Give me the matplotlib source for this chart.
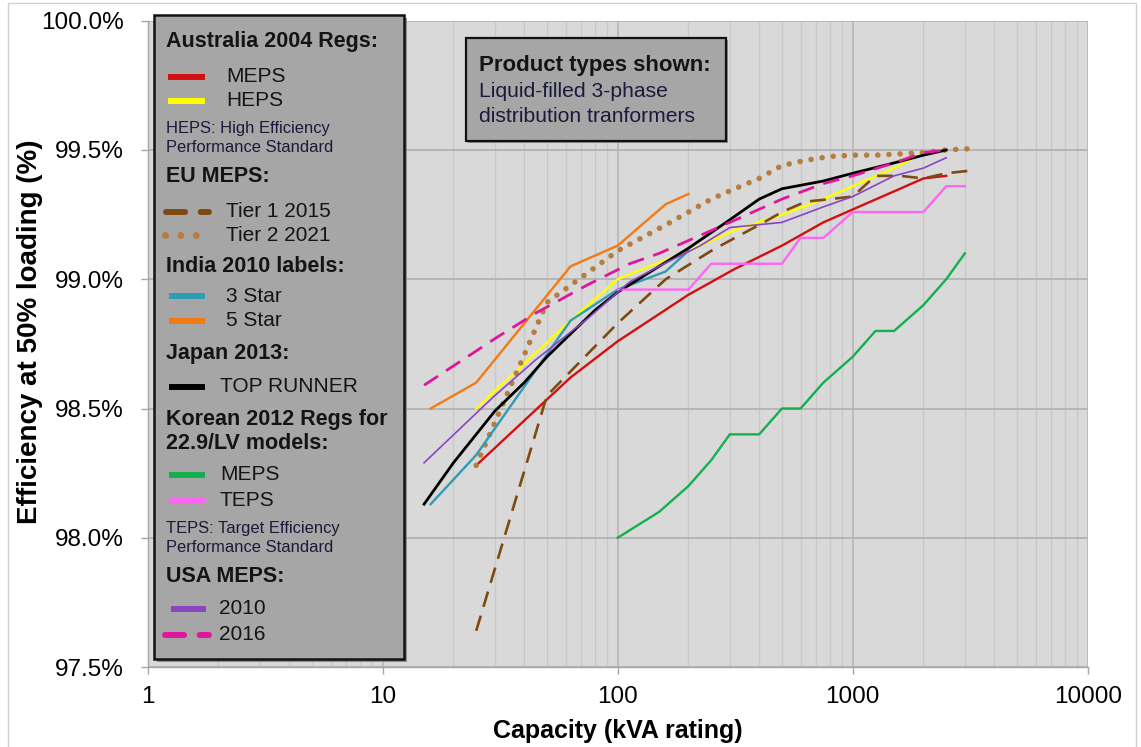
import matplotlib
matplotlib.use("Agg")
import matplotlib.pyplot as plt
from matplotlib.lines import Line2D
from matplotlib.patches import Rectangle
from matplotlib.ticker import FixedLocator, LogLocator, NullFormatter, FuncFormatter

plt.rcParams['font.family'] = ['Liberation Sans', 'DejaVu Sans']

# ---- data (efficiency at 50% load, %) ----
aus_kva = [25, 63, 100, 200, 315, 500, 750, 1000, 1500, 2000, 2500]
aus_meps = [98.28, 98.62, 98.76, 98.94, 99.04, 99.13, 99.22, 99.27, 99.34, 99.39, 99.40]
aus_heps = [98.50, 98.84, 99.00, 99.11, 99.19, 99.25, 99.31, 99.36, 99.43, 99.49, 99.50]

eu_kva = [25, 50, 100, 160, 250, 315, 400, 500, 630, 800, 1000, 1250, 1600, 2000, 2500, 3150]
eu_tier1 = [97.64, 98.55, 98.83, 99.00, 99.11, 99.16, 99.21, 99.26, 99.30, 99.31, 99.32,
            99.40, 99.40, 99.39, 99.41, 99.42]
eu_tier2 = [98.28, 98.91, 99.11, 99.21, 99.31, 99.35, 99.39, 99.44, 99.46, 99.475, 99.48,
            99.48, 99.485, 99.49, 99.50, 99.505]

india_kva = [16, 25, 63, 100, 160, 200]
india_3star = [98.13, 98.32, 98.84, 98.96, 99.03, 99.11]
india_5star = [98.50, 98.60, 99.05, 99.13, 99.29, 99.33]

japan_kva = [15, 20, 25, 30, 40, 50, 60, 80, 100, 150, 200, 300, 400, 500, 750, 1000, 1500, 2000, 2500]
japan_top = [98.13, 98.29, 98.40, 98.49, 98.60, 98.70, 98.77, 98.88, 98.95, 99.05, 99.12,
             99.23, 99.31, 99.35, 99.38, 99.41, 99.45, 99.48, 99.50]

korea_kva = [100, 150, 200, 250, 300, 400, 500, 600, 750, 1000, 1250, 1500, 2000, 2500, 3000]
korea_meps = [98.0, 98.1, 98.2, 98.3, 98.4, 98.4, 98.5, 98.5, 98.6, 98.7, 98.8, 98.8, 98.9, 99.0, 99.1]
korea_teps = [98.96, 98.96, 98.96, 99.06, 99.06, 99.06, 99.06, 99.16, 99.16, 99.26, 99.26,
              99.26, 99.26, 99.36, 99.36]

usa_kva = [15, 30, 45, 75, 112.5, 150, 225, 300, 500, 750, 1000, 1500, 2000, 2500]
usa_2010 = [98.29, 98.55, 98.69, 98.85, 98.99, 99.05, 99.13, 99.20, 99.22, 99.28, 99.32, 99.40, 99.43, 99.47]
usa_2016 = [98.59, 98.77, 98.87, 98.98, 99.06, 99.10, 99.17, 99.22, 99.31, 99.37, 99.40, 99.45, 99.49, 99.50]

y_ticks = [97.5, 98.0, 98.5, 99.0, 99.5, 100.0]
x_ticks = [1, 10, 100, 1000, 10000]

# ---- colours / styles ----
C_RED = '#d40f0f'
C_YEL = '#ffff00'
C_BRN = '#7f4a12'
C_DOT = '#b57d40'
C_TEAL = '#2f9bb4'
C_ORG = '#f27a12'
C_GRN = '#12b04e'
C_PINK = '#ff66f2'
C_PUR = '#8a45c0'
C_MAG = '#e0169c'

W, H = 1141, 747


def fx(x):
    return x / W


def fy(y):
    return 1 - y / H


fig = plt.figure(figsize=(W / 100, H / 100), dpi=100)
ax = fig.add_axes([147.7 / W, 1 - 667 / H, 940 / W, (667 - 20.75) / H])
ax.set_facecolor('#d9d9d9')

ax.plot(aus_kva, aus_meps, color=C_RED, lw=1.7)
ax.plot(aus_kva, aus_heps, color=C_YEL, lw=1.7)
ax.plot(eu_kva, eu_tier1, color=C_BRN, lw=1.9, linestyle=(0, (6, 3.5)))
ax.plot(eu_kva, eu_tier2, color=C_DOT, lw=4.0, linestyle=(0, (0.01, 2.0)), dash_capstyle='round')
ax.plot(india_kva, india_3star, color=C_TEAL, lw=1.7)
ax.plot(india_kva, india_5star, color=C_ORG, lw=1.7)
ax.plot(japan_kva, japan_top, color='black', lw=2.0)
ax.plot(korea_kva, korea_meps, color=C_GRN, lw=1.7)
ax.plot(korea_kva, korea_teps, color=C_PINK, lw=1.7)
ax.plot(usa_kva, usa_2010, color=C_PUR, lw=1.2)
ax.plot(usa_kva, usa_2016, color=C_MAG, lw=2.0, linestyle=(0, (6, 3.5)))

ax.set_xscale('log')
ax.set_xlim(1, 10000)
ax.set_ylim(97.5, 100.0)
ax.xaxis.set_major_locator(FixedLocator(x_ticks))
ax.xaxis.set_major_formatter(FuncFormatter(lambda v, p: '%d' % v))
ax.xaxis.set_minor_locator(LogLocator(base=10, subs=range(2, 10)))
ax.xaxis.set_minor_formatter(NullFormatter())
ax.yaxis.set_major_locator(FixedLocator(y_ticks))
ax.yaxis.set_major_formatter(FuncFormatter(lambda v, p: '%.1f%%' % v))

ax.grid(which='major', axis='y', color='#b3b3b3', lw=1.3)
ax.grid(which='major', axis='x', color='#b8b8b8', lw=1.3)
ax.grid(which='minor', axis='x', color='#c9c9c9', lw=1.0)
ax.set_axisbelow(True)

for s in ['top', 'right']:
    ax.spines[s].set_visible(False)
for s in ['left', 'bottom']:
    ax.spines[s].set_color('#a6a6a6')
    ax.spines[s].set_linewidth(1.0)

ax.tick_params(which='major', axis='both', direction='out', length=5, width=1,
               color='#a6a6a6', labelsize=17.5, labelcolor='black')
ax.tick_params(which='major', axis='y', pad=12)
ax.tick_params(which='major', axis='x', pad=9)
ax.tick_params(which='minor', length=0)

ax.set_xlabel('Capacity (kVA rating)', fontsize=18, fontweight='bold', va='center')
ax.xaxis.set_label_coords(0.5, -0.099)
ax.set_ylabel('Efficiency at 50% loading (%)', fontsize=20, fontweight='bold', va='center')
ax.yaxis.set_label_coords(-0.125, 0.518)

# light frame around the chart area
fig.add_artist(Rectangle((fx(8), fy(760)), fx(1136) - fx(8), fy(3) - fy(760),
                         transform=fig.transFigure, fill=False, ec='#d0d0d0', lw=1.0))

# ---- legend box ----
bx0, bx1, by0, by1 = 153.5, 404, 14.5, 659
fig.add_artist(Rectangle((fx(bx0 + 3), fy(by1 + 3)), fx(bx1) - fx(bx0), fy(by0) - fy(by1),
                         transform=fig.transFigure, fc='#8c8c8c', ec='none', zorder=5))
fig.add_artist(Rectangle((fx(bx0), fy(by1)), fx(bx1) - fx(bx0), fy(by0) - fy(by1),
                         transform=fig.transFigure, fc='#a6a6a6', ec='#111111', lw=1.8, zorder=6))

TXT = '#141414'


def header(y, s):
    fig.text(fx(166), fy(y), s, fontsize=15.5, fontweight='bold', color=TXT,
             ha='left', va='center', zorder=7)


def note(y, s):
    fig.text(fx(166), fy(y), s, fontsize=11.9, color='#1a1a3a',
             ha='left', va='center', zorder=7)


def entry(y, s, tx, x0, x1, **kw):
    fig.add_artist(Line2D([fx(x0), fx(x1)], [fy(y), fy(y)], transform=fig.transFigure,
                          zorder=7, **kw))
    fig.text(fx(tx), fy(y), s, fontsize=15, color=TXT, ha='left', va='center', zorder=7)


solid = dict(lw=4.3, solid_capstyle='butt')
header(42, 'Australia 2004 Regs:')
entry(77, 'MEPS', 226, 168, 205, color=C_RED, **solid)
entry(101, 'HEPS', 226, 168, 205, color=C_YEL, **solid)
note(129, 'HEPS: High Efficiency')
note(147.5, 'Performance Standard')
header(176, 'EU MEPS:')
entry(211.5, 'Tier 1 2015', 226, 166, 209, color=C_BRN, lw=4.3,
      linestyle=(0, (3.2, 2.6)), dash_capstyle='round')
entry(235.5, 'Tier 2 2021', 226, 165, 211, color=C_DOT, lw=5.0,
      linestyle=(0, (0.01, 2.2)), dash_capstyle='round')
header(267, 'India 2010 labels:')
entry(296, '3 Star', 226, 169, 205, color=C_TEAL, **solid)
entry(320.5, '5 Star', 226, 169, 205, color=C_ORG, **solid)
header(353, 'Japan 2013:')
entry(386.5, 'TOP RUNNER', 220, 169, 205, color='black', **solid)
header(419, 'Korean 2012 Regs for')
header(443, '22.9/LV models:')
entry(475, 'MEPS', 220, 169, 205, color=C_GRN, **solid)
entry(501, 'TEPS', 220, 169, 205, color=C_PINK, **solid)
note(528, 'TEPS: Target Efficiency')
note(547, 'Performance Standard')
header(577, 'USA MEPS:')
entry(608.5, '2010', 219, 171, 206, color=C_PUR, **solid)
entry(635, '2016', 219, 165, 209, color=C_MAG, lw=4.3,
      linestyle=(0, (3.2, 2.6)), dash_capstyle='round')

# ---- product type box ----
px0, px1, py0, py1 = 466, 726, 38.5, 141
fig.add_artist(Rectangle((fx(px0 + 2), fy(py1 + 2)), fx(px1) - fx(px0), fy(py0) - fy(py1),
                         transform=fig.transFigure, fc='#8c8c8c', ec='none', zorder=5))
fig.add_artist(Rectangle((fx(px0), fy(py1)), fx(px1) - fx(px0), fy(py0) - fy(py1),
                         transform=fig.transFigure, fc='#a6a6a6', ec='#111111', lw=1.6, zorder=6))
fig.text(fx(479), fy(65.5), 'Product types shown:', fontsize=16, fontweight='bold',
         color=TXT, ha='left', va='center', zorder=7)
fig.text(fx(479), fy(91.5), 'Liquid-filled 3-phase', fontsize=15.2, color='#1a1a3a',
         ha='left', va='center', zorder=7)
fig.text(fx(479), fy(117), 'distribution tranformers', fontsize=15.2, color='#1a1a3a',
         ha='left', va='center', zorder=7)

fig.savefig('out.png', dpi=100, facecolor='white')
plt.close(fig)
